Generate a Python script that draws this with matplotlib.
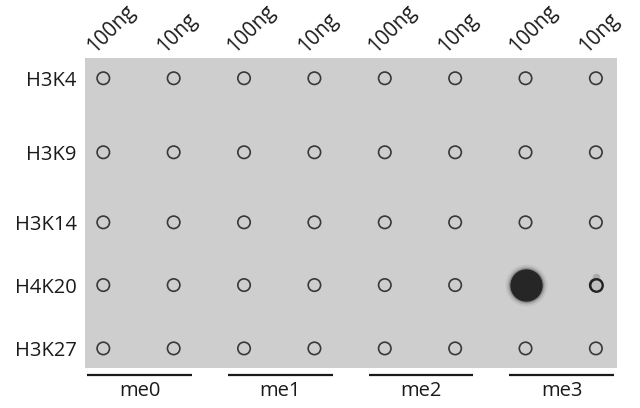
import numpy as np
import matplotlib
matplotlib.use("Agg")
import matplotlib.pyplot as plt

plt.rcParams['font.family'] = ['Open Sans', 'DejaVu Sans']

# data
rows = ["H3K4", "H3K9", "H3K14", "H4K20", "H3K27"]
groups = ["me0", "me1", "me2", "me3"]
amounts = ["100ng", "10ng"]
# signal per row, per (group, amount) spot
signal = np.array([
    [0, 0, 0, 0, 0, 0, 0, 0],
    [0, 0, 0, 0, 0, 0, 0, 0],
    [0, 0, 0, 0, 0, 0, 0, 0],
    [0, 0, 0, 0, 0, 0, 1.0, 0.25],
    [0, 0, 0, 0, 0, 0, 0, 0],
])

# layout (row spacing on the membrane is not quite even)
row_pos = [0, 1.096, 2.133, 3.062, 4.0]
col_pos = np.arange(len(groups) * len(amounts))

fig = plt.figure(figsize=(6.4, 4.08), dpi=100)
ax = fig.add_axes([85 / 640, 40 / 408, 532 / 640, 310 / 408])
ax.set_facecolor('#cecece')
ax.set_xlim(-0.26, 7.30)
ax.set_ylim(4.29, -0.30)
for s in ax.spines.values():
    s.set_visible(False)

X, Y = np.meshgrid(col_pos, row_pos)

# empty rings for every spot
ax.scatter(X.ravel(), Y.ravel(), s=80, facecolor='none',
           edgecolor='#383838', linewidth=1.2, zorder=2)

# spots with signal
for i in range(len(rows)):
    for j in col_pos:
        v = signal[i, j]
        if v >= 0.5:
            for k, a in zip([1.3, 1.17, 1.07], [0.07, 0.14, 0.3]):
                ax.scatter(j, row_pos[i], s=540 * v * k * k, color='#222222',
                           alpha=a, linewidth=0, zorder=3)
            ax.scatter(j, row_pos[i], s=540 * v, color='#262626',
                       linewidth=0, zorder=4)
        elif v > 0:
            ax.scatter(j, row_pos[i] - 0.12, s=30, color='#8a8a8a',
                       alpha=0.5, linewidth=0, zorder=3)
            ax.scatter(j, row_pos[i], s=80, facecolor='#c0c0c0',
                       edgecolor='#222222', linewidth=1.7, zorder=4)

# row labels
ax.set_yticks(row_pos)
ax.set_yticklabels(rows, fontsize=14.5, color='#1a1a1a')
ax.tick_params(axis='y', length=0, pad=6)
ax.set_xticks([])

# column labels
for j in col_pos:
    ax.text(j - 0.13, -0.37, amounts[j % 2], rotation=45,
            rotation_mode='anchor', ha='left', va='baseline',
            fontsize=14.8, color='#1a1a1a')

# group underlines and labels
for g, name in enumerate(groups):
    x0 = col_pos[2 * g] - 0.23
    x1 = col_pos[2 * g + 1] + 0.26
    ax.plot([x0, x1], [4.395, 4.395], color='#1a1a1a', linewidth=1.6,
            clip_on=False, solid_capstyle='butt')
    ax.text((x0 + x1) / 2, 4.63, name, ha='center', va='center',
            fontsize=14.5, color='#1a1a1a')

fig.savefig("out.png", dpi=100, facecolor='white')
